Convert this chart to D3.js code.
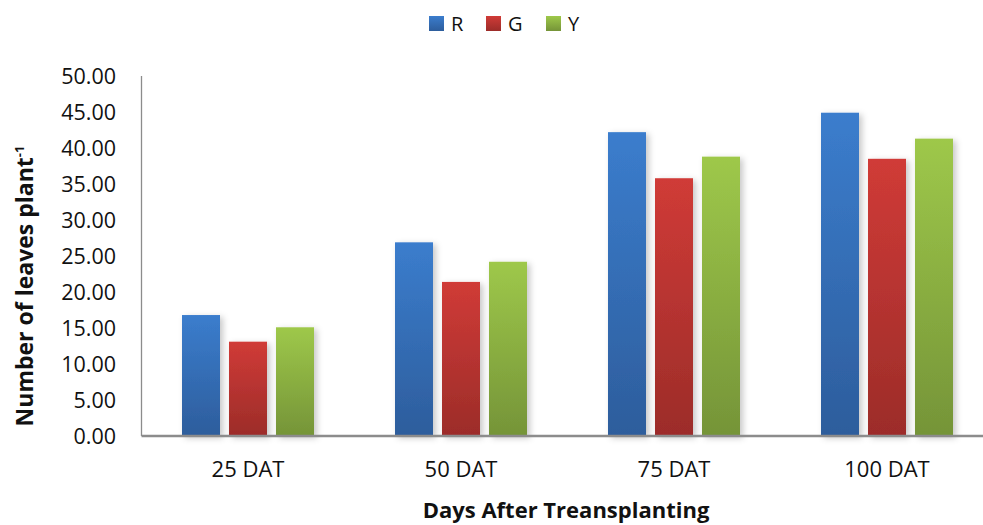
<!DOCTYPE html>
<html>
<head>
<meta charset="utf-8">
<script src="https://cdn.jsdelivr.net/npm/d3@7"></script>
<style>
  html, body { margin: 0; padding: 0; background: #fff; }
  svg { display: block; font-family: "Open Sans", "Liberation Sans", sans-serif; }
</style>
</head>
<body>
<svg id="chart" width="983" height="525"></svg>
<script>
const categories = ["25 DAT", "50 DAT", "75 DAT", "100 DAT"];
const seriesNames = ["R", "G", "Y"];
const valuesR = [16.8, 26.9, 42.2, 44.9];
const valuesG = [13.1, 21.4, 35.8, 38.5];
const valuesY = [15.1, 24.2, 38.8, 41.3];
const yTicks = [0, 5, 10, 15, 20, 25, 30, 35, 40, 45, 50];

const seriesValues = { R: valuesR, G: valuesG, Y: valuesY };
const colors = {
  R: ["#3b7dcd", "#2d5d9c"],
  G: ["#d03b37", "#9c2c29"],
  Y: ["#9ec84a", "#759438"],
};

const svg = d3.select("#chart");
const margin = { left: 141.5, top: 76, bottom: 436, right: 993.5 };

const x0 = d3.scaleBand().domain(categories).range([margin.left, margin.right]).padding(0);
const x1 = d3.scaleBand().domain(seriesNames).range([0, 132]).paddingInner(9 / 47).paddingOuter(0);
const y = d3.scaleLinear().domain([0, 50]).range([margin.bottom, margin.top]);

const defs = svg.append("defs");
seriesNames.forEach((s) => {
  const g = defs.append("linearGradient").attr("id", "grad-" + s)
    .attr("x1", 0).attr("y1", 0).attr("x2", 0).attr("y2", 1);
  g.append("stop").attr("offset", "0%").attr("stop-color", colors[s][0]);
  g.append("stop").attr("offset", "100%").attr("stop-color", colors[s][1]);
});
const shadow = defs.append("filter").attr("id", "shadow")
  .attr("x", "-30%").attr("y", "-10%").attr("width", "160%").attr("height", "120%");
shadow.append("feDropShadow").attr("dx", 3).attr("dy", 2).attr("stdDeviation", 3)
  .attr("flood-color", "#000").attr("flood-opacity", 0.22);

// y axis line
svg.append("line")
  .attr("x1", margin.left).attr("x2", margin.left)
  .attr("y1", y(50)).attr("y2", y(0))
  .attr("stroke", "#8c8c8c").attr("stroke-width", 1.3);

// y tick labels
svg.append("g").selectAll("text").data(yTicks).join("text")
  .attr("x", 116).attr("y", (d) => y(d))
  .attr("dy", "0.36em")
  .attr("text-anchor", "end")
  .attr("font-size", 21.5)
  .attr("fill", "#111")
  .text((d) => d.toFixed(2));

// bars
const groups = svg.append("g").selectAll("g").data(categories).join("g")
  .attr("transform", (d) => `translate(${x0(d) + (x0.bandwidth() - 132) / 2},0)`);

groups.selectAll("rect")
  .data((c, i) => seriesNames.map((s) => ({ s, v: seriesValues[s][i] })))
  .join("rect")
  .attr("x", (d) => x1(d.s))
  .attr("width", x1.bandwidth())
  .attr("y", (d) => y(d.v))
  .attr("height", (d) => y(0) - y(d.v))
  .attr("fill", (d) => `url(#grad-${d.s})`)
  .attr("filter", "url(#shadow)");

svg.append("line")
  .attr("x1", margin.left).attr("x2", 983)
  .attr("y1", y(0)).attr("y2", y(0))
  .attr("stroke", "#8c8c8c").attr("stroke-width", 2.5);

// x tick labels
svg.append("g").selectAll("text").data(categories).join("text")
  .attr("x", (d) => x0(d) + x0.bandwidth() / 2)
  .attr("y", 477)
  .attr("text-anchor", "middle")
  .attr("font-size", 22)
  .attr("fill", "#111")
  .text((d) => d);

// axis titles
svg.append("text")
  .attr("x", 566).attr("y", 518)
  .attr("text-anchor", "middle")
  .attr("font-size", 22).attr("font-weight", "bold")
  .attr("fill", "#111")
  .text("Days After Treansplanting");

const yt = svg.append("text")
  .attr("transform", "translate(33,286) rotate(-90)")
  .attr("text-anchor", "middle")
  .attr("font-size", 23).attr("font-weight", "bold")
  .attr("fill", "#111");
yt.append("tspan").text("Number of leaves plant");
yt.append("tspan").attr("dy", -9).attr("font-size", 13).text("-1");

// legend
const legendX = [429, 486, 546];
const legend = svg.append("g").selectAll("g").data(seriesNames).join("g")
  .attr("transform", (d, i) => `translate(${legendX[i]},16)`);
legend.append("rect").attr("width", 15).attr("height", 15)
  .attr("fill", (d) => `url(#grad-${d})`);
legend.append("text").attr("x", 22).attr("y", 7.5).attr("dy", "0.36em")
  .attr("font-size", 20).attr("fill", "#111")
  .text((d) => d);
</script>
</body>
</html>
